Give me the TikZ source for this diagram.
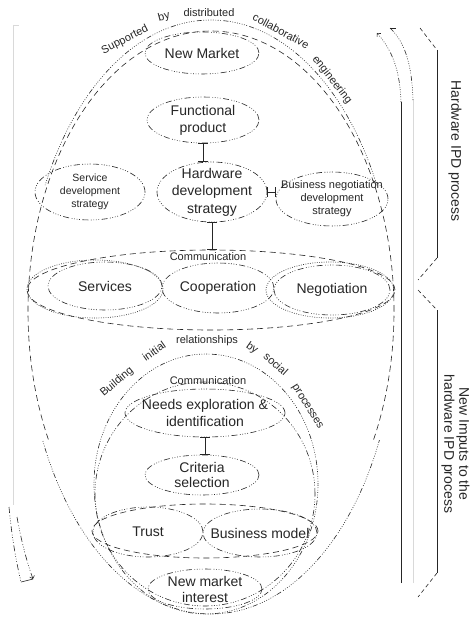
\documentclass[tikz,border=0pt]{standalone}
\usepackage{fontspec}
\setmainfont{Liberation Sans}
\usetikzlibrary{shapes.geometric,arrows.meta}
\begin{document}
\begin{tikzpicture}[x=1pt,y=-1pt,
  ink/.style={draw=black!85, line width=0.6pt},
  dashmix/.style={ink, dash pattern=on 6pt off 2.5pt on 0.8pt off 1.7pt on 0.8pt off 1.7pt on 0.8pt off 1.7pt on 0.8pt off 2.5pt},
  dotmix/.style={ink, dash pattern=on 0.8pt off 1.6pt on 0.8pt off 1.6pt on 0.8pt off 1.6pt on 0.8pt off 1.6pt on 0.8pt off 1.6pt on 0.8pt off 1.6pt on 0.8pt off 1.6pt on 0.8pt off 1.6pt on 5pt off 2.5pt},
  dotline/.style={ink, dash pattern=on 0.8pt off 1.5pt},
  dashline/.style={ink, dash pattern=on 6pt off 4pt},
  shortdash/.style={ink, dash pattern=on 4pt off 3pt},
  faint/.style={draw=black!15, line width=0.6pt},
  ovalsize/.style 2 args={minimum width=#1, minimum height=#2},
  oval/.style={ellipse, inner sep=-30pt, outer sep=0pt, align=center, text=black!85},
  bubble/.style={oval, dashmix, font=\fontsize{14}{17}\selectfont},
  smallbubble/.style={oval, dashmix, font=\fontsize{10.5}{13}\selectfont},
  tee/.style={draw=black!85, line width=0.9pt, {Bar[width=10pt]}-{Bar[width=10pt]}},
  arcword/.style={font=\fontsize{11}{13}\selectfont, inner sep=0pt, text=black!85},
  side/.style={font=\fontsize{14}{15}\selectfont, rotate=-90, inner sep=0pt, text=black!85},
]
\fill[white] (0,0) rectangle (471,618);
\useasboundingbox (0,0) rectangle (471,618);

% outer process outlines: dotted at top and bottom, dashed along the sides
\begin{scope}
  \clip (0,0) rectangle (471,185) (0,440) rectangle (471,618);
  \node[oval, dotmix, ovalsize={370}{594}] (supp) at (211,317) {};
\end{scope}
\begin{scope}
  \clip (0,0) rectangle (471,440);
  \node[oval, dashline, ovalsize={366}{560}] (ipd) at (211,311) {};
\end{scope}

% words along the upper arc
\node[arcword, rotate=27] (w1) at (125,40) {Supported};
\node[arcword, rotate=15] (w2) at (164,17) {by};
\node[arcword] (w3) at (209,13) {distributed};
\node[arcword, rotate=-28] (w4) at (281,31) {collaborative};
\node[arcword, rotate=-52] (w5) at (332,80) {engineering};

% hardware IPD part
\node[bubble, ovalsize={114}{42}] (nm) at (202,53) {New Market};
\node[bubble, ovalsize={112}{46}] (fp) at (203,120) {Functional\\product};
\node[bubble, font=\fontsize{14}{17.5}\selectfont, ovalsize={110}{60}] (hds) at (212,192) {Hardware\\development\\strategy};
\node[smallbubble, ovalsize={110}{56}] (sds) at (90,192) {Service\\development\\strategy};
\node[smallbubble, font=\fontsize{11}{13}\selectfont, ovalsize={112}{54}] (bnds) at (332,199) {Business negotiation\\development\\strategy};

% communication band
\node[oval, dashline, ovalsize={368}{80}] (comm) at (211,290) {};
\node[arcword] (commlbl) at (208,257) {Communication};
\node[oval, dotline, ovalsize={136}{58}] (svcring) at (95,289) {};
\node[bubble, ovalsize={114}{48}] (svc) at (105,286) {Services};
\node[bubble, ovalsize={112}{50}] (coop) at (218,288) {Cooperation};
\node[bubble, ovalsize={116}{50}] (nego) at (332,290) {Negotiation};
\node[oval, dotline, ovalsize={128}{56}] (negoring) at (330,290) {};

% social relationship part
\node[oval, dotmix, ovalsize={224}{260}] (build) at (206,484) {};
\node[oval, dashmix, ovalsize={220}{224}] (commlow) at (205,494) {};
\node[arcword, rotate=40] (b1) at (117,382) {Building};
\node[arcword, rotate=35] (b2) at (154,351) {initial};
\node[arcword] (b3) at (207,341) {relationships};
\node[arcword, rotate=-35] (b4) at (252,348) {by};
\node[arcword, rotate=-42] (b5) at (276,364) {social};
\node[arcword, rotate=-58] (b6) at (307,407) {processes};
\node[arcword] (commlowlbl) at (208,381) {Communication};

\node[bubble, ovalsize={160}{48}] (needs) at (205,413) {Needs exploration \&\\identification};
\node[bubble, font=\fontsize{14}{15.5}\selectfont, ovalsize={114}{40}] (crit) at (202,475) {Criteria\\selection};
\node[oval, dashline, ovalsize={226}{54}] (tbm) at (205,531) {};
\node[bubble, ovalsize={110}{50}] (trust) at (148,532) {Trust};
\node[bubble, ovalsize={114}{48}] (bm) at (260,533) {Business model};
\node[bubble, font=\fontsize{14}{16}\selectfont, ovalsize={114}{40}] (nmi) at (205,589) {New market\\interest};

% links
\draw[tee] (fp.south) -- (fp.south |- hds.north);
\draw[tee] (hds.east) -- (hds.east -| bnds.west);
\draw[tee] (hds.south) -- (hds.south |- comm.north);
\draw[tee] (needs.south) -- (needs.south |- crit.north);

% flow on the right (upwards)
\coordinate (rbot) at (401,583);
\coordinate (rtop) at (401,102);
\coordinate (rtip) at (377,33);
\coordinate (r2bot) at (413,583);
\coordinate (r2top) at (413,100);
\coordinate (r2tip) at (390,28);
\draw[ink] (rbot) -- (rtop);
\draw[faint] (r2bot) -- (r2top);
\draw[dotmix, -{Straight Barb[length=2.5pt,width=5pt]}] (rtop) .. controls (400,70) and (392,50) .. (rtip);
\draw[dotmix] (r2top) .. controls (412,65) and (405,42) .. (r2tip);
\draw[ink] (r2tip) -- ++(6,0);

% flow on the left (downwards)
\coordinate (ltop) at (13,25);
\coordinate (lmid) at (13,505);
\coordinate (l1a) at (9,507);
\coordinate (l1b) at (21,582);
\coordinate (l2a) at (17,517);
\coordinate (l2b) at (33,579);
\draw[faint] (ltop) -- (lmid);
\draw[faint] (ltop) -- ++(6,0);
\draw[dashmix] (l1a) .. controls (12,540) and (17,565) .. (l1b);
\draw[dashmix, -{Straight Barb[length=2.5pt,width=5pt]}] (l2a) .. controls (22,545) and (28,565) .. (l2b);
\draw[ink] (l1b) -- (l2b);

% bracket of the two phases
\draw[shortdash] (420,28) -- (437,50);
\draw[ink] (437,50) -- (437,258);
\draw[shortdash] (437,258) -- (418,280);
\draw[shortdash] (418,290) -- (437,310);
\draw[ink] (437,310) -- (437,573);
\draw[shortdash] (437,573) -- (418,597);

% phase names, one node per line of the rotated text
\node[side] (hwlbl) at (455,151) {Hardware IPD process};
\node[side] (newlbl) at (463,444) {New Imputs to the};
\node[side] (hwlbl2) at (448,444) {hardware IPD process};
\end{tikzpicture}
\end{document}
